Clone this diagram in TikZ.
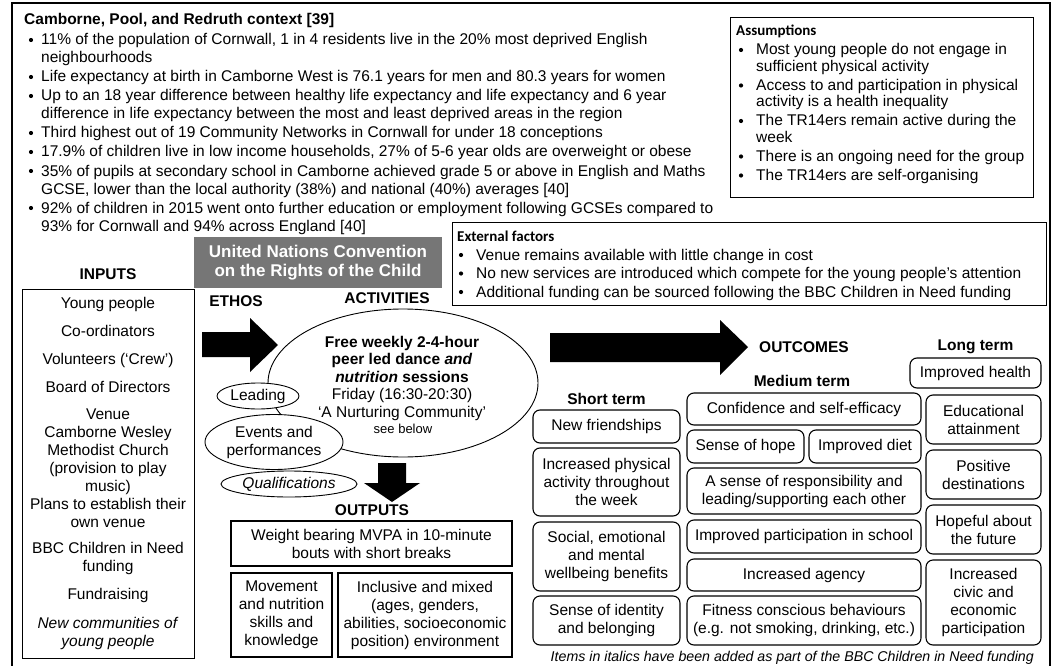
\documentclass[tikz,border=0pt]{standalone}
\usepackage{fontspec}
\setmainfont{Liberation Sans}
\newfontfamily\calfont{Carlito}
\usetikzlibrary{shapes.geometric}
\newcommand\fs{\fontsize{15.5}{18}\selectfont}
\definecolor{ungrey}{RGB}{118,118,118}

\begin{document}
\begin{tikzpicture}
        [%%%%%%%%%%%%%%%%%%%%%%%%%%%%%%
        x=1pt, y=-1pt,
        every node/.style={font=\fs, inner sep=0pt},
        dot/.style={circle, fill, inner sep=0pt, minimum size=4.2pt},
        line/.style={anchor=base west},
        head/.style={font=\fs\bfseries},
        cal/.style={anchor=base west, font=\fontsize{15}{18}\selectfont\calfont\bfseries},
        frame/.style={draw, line width=0.9pt},
        obox/.style={draw, rounded corners=7pt, line width=1.1pt, align=center},
        pbox/.style={draw, line width=1.4pt, align=center},
        oval/.style={draw, ellipse, fill=white, line width=0.9pt, align=center},
        ]%%%%%%%%%%%%%%%%%%%%%%%%%%%%%%
        \useasboundingbox (0,0) rectangle (1057,666);
        \draw[line width=1.4pt] (12,690) -- (12,3) -- (1050,3) -- (1050,690);

        % Context
        \node[line, head] (ctx) at (24,25) {Camborne, Pool, and Redruth context [39]};
        \foreach \y/\t [count=\i] in {
            40/{11\% of the population of Cornwall, 1 in 4 residents live in the 20\% most deprived English},
            58/{neighbourhoods},
            77/{Life expectancy at birth in Camborne West is 76.1 years for men and 80.3 years for women},
            96/{Up to an 18 year difference between healthy life expectancy and life expectancy and 6 year},
            114/{difference in life expectancy between the most and least deprived areas in the region},
            133/{Third highest out of 19 Community Networks in Cornwall for under 18 conceptions},
            152/{17.9\% of children live in low income households, 27\% of 5-6 year olds are overweight or obese},
            171/{35\% of pupils at secondary school in Camborne achieved grade 5 or above in English and Maths},
            189/{GCSE, lower than the local authority (38\%) and national (40\%) averages [40]},
            208/{92\% of children in 2015 went onto further education or employment following GCSEs compared to},
            226/{93\% for Cornwall and 94\% across England [40]}}{
          \node[line] (ctx\i) at (41,\y+5) {\t};
        }
        \foreach \y [count=\i] in {40,77,96,133,152,171,208}
          \node[dot] (cb\i) at (31,\y) {};

        % Assumptions
        \node[frame, minimum width=303, minimum height=180] (asm) at (881.5,107) {};
        \node[cal] (asmt) at (736,36) {Assumptions};
        \foreach \y/\t [count=\i] in {
            50/{Most young people do not engage in},
            66.5/{sufficient physical activity},
            85.5/{Access to and participation in physical},
            102/{activity is a health inequality},
            121/{The TR14ers remain active during the},
            137.5/{week},
            156.5/{There is an ongoing need for the group},
            175.5/{The TR14ers are self-organising}}{
          \node[line] (asm\i) at (756,\y+5) {\t};
        }
        \foreach \y [count=\i] in {50,85.5,121,156.5,175.5}
          \node[dot] (ab\i) at (741,\y) {};

        % External factors
        \node[frame, minimum width=594, minimum height=83] (ext) at (749,263.5) {};
        \node[cal] (extt) at (457,241) {External factors};
        \foreach \y/\t [count=\i] in {
            255/{Venue remains available with little change in cost},
            273.5/{No new services are introduced which compete for the young people’s attention},
            292/{Additional funding can be sourced following the BBC Children in Need funding}}{
          \node[line] (ext\i) at (476,\y+5) {\t};
          \node[dot] (eb\i) at (461,\y) {};
        }

        % UN convention
        \node[fill=ungrey, text=white, align=center, minimum width=248, minimum height=51,
              font=\fontsize{17}{19}\selectfont\bfseries] (un) at (318,262.5)
              {United Nations Convention\\on the Rights of the Child};

        % Inputs
        \node[head] (inputs) at (108,274) {INPUTS};
        \node[frame, minimum width=172, minimum height=369] (inbox) at (108,473.5) {};
        \foreach \y/\t [count=\i] in {
            303/{Young people}, 331/{Co-ordinators}, 359/{Volunteers (‘Crew’)},
            387/{Board of Directors}, 414/{Venue}, 432/{Camborne Wesley},
            450/{Methodist Church}, 468/{(provision to play}, 486/{music)},
            504/{Plans to establish their}, 522/{own venue}, 548/{BBC Children in Need},
            566/{funding}, 594/{Fundraising}, 623/{\textit{New communities of}},
            641/{\textit{young people}}}{
          \node[anchor=base] (in\i) at (108,\y+5) {\t};
        }

        % Ethos and activities
        \node[head] (ethos) at (236,301) {ETHOS};
        \node[head] (activities) at (387,298) {ACTIVITIES};
        \fill (202,332) -- (250,332) -- (250,318) -- (278,345) -- (250,372) -- (250,357)
              -- (202,357) -- cycle;
        \node[draw, ellipse, line width=0.9pt, minimum width=270, minimum height=148] (act) at (403,383) {};
        \node[align=center, font=\fontsize{15.5}{17.5}\selectfont] (actt) at (402,378)
              {\textbf{Free weekly 2-4-hour}\\\textbf{peer led dance \textit{and}}\\
               \textbf{\textit{nutrition} sessions}\\Friday (16:30-20:30)\\‘A Nurturing Community’};
        \node[font=\fontsize{13}{15}\selectfont] (below) at (403,429) {see below};
        \node[oval, minimum width=82, minimum height=26] (lead) at (258,396) {Leading};
        \node[oval, minimum width=138, minimum height=55] (events) at (274,442) {Events and\\performances};
        \node[oval, minimum width=136, minimum height=26] (qual) at (289,484) {\textit{Qualifications}};

        % Outputs
        \fill (378,463) -- (406,463) -- (406,483) -- (420,483) -- (392,502) -- (364,483)
              -- (378,483) -- cycle;
        \node[head] (outputs) at (372,510) {OUTPUTS};
        \node[pbox, minimum width=281, minimum height=45] (weight) at (371.5,543.5)
              {Weight bearing MVPA in 10-minute\\bouts with short breaks};
        \node[pbox, minimum width=101, minimum height=84] (move) at (281.5,615)
              {Movement\\and nutrition\\skills and\\knowledge};
        \node[pbox, minimum width=174, minimum height=84] (incl) at (425,615)
              {Inclusive and mixed\\(ages, genders,\\abilities, socioeconomic\\position) environment};

        % Outcomes
        \fill (550,333) -- (720,333) -- (720,320) -- (748,347) -- (720,375) -- (720,362)
              -- (550,362) -- cycle;
        \node[head] (outcomes) at (804,347) {OUTCOMES};
        \node[head] (longt) at (975.5,347) {Long term};
        \node[head] (medt) at (802,381) {Medium term};
        \node[head] (shortt) at (606.5,399) {Short term};

        % Short term
        \node[obox, minimum width=147, minimum height=33] (fr) at (606.5,426.5) {New friendships};
        \node[obox, minimum width=147, minimum height=68] (ipa) at (606.5,482)
              {Increased physical\\activity throughout\\the week};
        \node[obox, minimum width=147, minimum height=69] (sem) at (606.5,556.5)
              {Social, emotional\\and mental\\wellbeing benefits};
        \node[obox, minimum width=147, minimum height=49] (sid) at (606.5,620.5)
              {Sense of identity\\and belonging};

        % Medium term
        \node[obox, minimum width=234, minimum height=32] (conf) at (804,409) {Confidence and self-efficacy};
        \node[obox, minimum width=117, minimum height=33] (hope) at (745.5,446.5) {Sense of hope};
        \node[obox, minimum width=112, minimum height=33] (diet) at (865,446.5) {Improved diet};
        \node[obox, minimum width=234, minimum height=46] (resp) at (804,491)
              {A sense of responsibility and\\leading/supporting each other};
        \node[obox, minimum width=234, minimum height=33] (part) at (804,536.5) {Improved participation in school};
        \node[obox, minimum width=234, minimum height=32] (agency) at (804,575) {Increased agency};
        \node[obox, minimum width=234, minimum height=49] (fit) at (804,620.5)
              {Fitness conscious behaviours\\(e.g. not smoking, drinking, etc.)};

        % Long term
        \node[obox, minimum width=131, minimum height=30] (health) at (975.5,373) {Improved health};
        \node[obox, minimum width=115, minimum height=49] (edu) at (983.5,419.5) {Educational\\attainment};
        \node[obox, minimum width=115, minimum height=49] (pos) at (983.5,474.5) {Positive\\destinations};
        \node[obox, minimum width=115, minimum height=49] (hopeful) at (983.5,529.5) {Hopeful about\\the future};
        \node[obox, minimum width=115, minimum height=85] (civic) at (983.5,602.5)
              {Increased\\civic and\\economic\\participation};

        % Note
        \node[anchor=base east, font=\fontsize{14.2}{17}\selectfont\itshape] (note) at (1034,661)
              {Items in italics have been added as part of the BBC Children in Need funding};
      \end{tikzpicture}
\end{document}
